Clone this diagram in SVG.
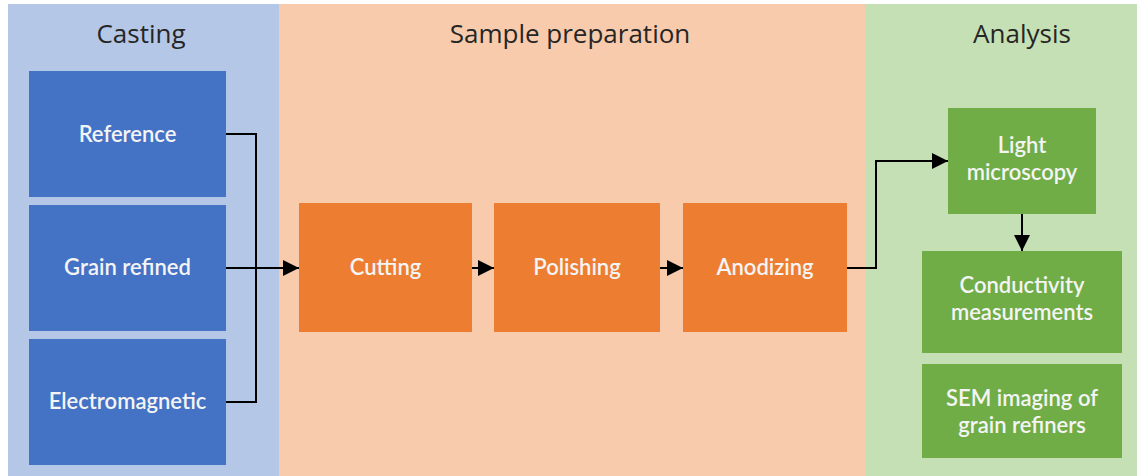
<svg xmlns="http://www.w3.org/2000/svg" width="1137" height="476" viewBox="0 0 1137 476">
  <style>
    .title { font-family: "Open Sans", Lato, sans-serif; font-size: 26px; fill: #262626; text-anchor: middle; }
    .lbl { font-family: Lato, "Open Sans", sans-serif; font-size: 22px; font-weight: 600; fill: #f4f4f4; text-anchor: middle; }
    .blue { fill: #4472c4; }
    .orange { fill: #ed7d31; }
    .green { fill: #70ad47; }
    .wire { fill: none; stroke: #000; stroke-width: 2; }
  </style>
  <defs>
    <marker id="head" viewBox="0 0 16 16" refX="16" refY="8" markerWidth="16" markerHeight="16" markerUnits="userSpaceOnUse" orient="auto">
      <path d="M0,0 L16,8 L0,16 z" fill="#000"/>
    </marker>
  </defs>

  <!-- stage panels -->
  <g id="panels">
    <rect x="0" y="0" width="1137" height="476" fill="#ffffff"/>
    <rect x="8" y="4" width="271" height="472" fill="#b4c7e7"/>
    <rect x="279" y="4" width="586" height="472" fill="#f8cbad"/>
    <rect x="865" y="4" width="272" height="472" fill="#c5e0b4"/>
    <text class="title" x="141" y="43">Casting</text>
    <text class="title" x="570" y="43">Sample preparation</text>
    <text class="title" x="1022" y="43">Analysis</text>
  </g>

  <!-- casting variants -->
  <g id="reference">
    <rect class="blue" x="29" y="71" width="197" height="126"/>
    <text class="lbl" x="127.5" y="141.5">Reference</text>
  </g>
  <g id="grain-refined">
    <rect class="blue" x="29" y="205" width="197" height="126"/>
    <text class="lbl" x="127.5" y="275">Grain refined</text>
  </g>
  <g id="electromagnetic">
    <rect class="blue" x="29" y="339" width="197" height="126"/>
    <text class="lbl" x="127.5" y="409">Electromagnetic</text>
  </g>

  <!-- preparation steps -->
  <g id="cutting">
    <rect class="orange" x="299" y="203" width="173" height="129"/>
    <text class="lbl" x="385.5" y="275">Cutting</text>
  </g>
  <g id="polishing">
    <rect class="orange" x="494" y="203" width="166" height="129"/>
    <text class="lbl" x="577" y="275">Polishing</text>
  </g>
  <g id="anodizing">
    <rect class="orange" x="683" y="203" width="164" height="129"/>
    <text class="lbl" x="765" y="275">Anodizing</text>
  </g>

  <!-- analysis -->
  <g id="light-microscopy">
    <rect class="green" x="948" y="108" width="148" height="106"/>
    <text class="lbl" x="1022" y="153">Light</text>
    <text class="lbl" x="1022" y="180">microscopy</text>
  </g>
  <g id="conductivity">
    <rect class="green" x="922" y="251" width="200" height="102"/>
    <text class="lbl" x="1022" y="293">Conductivity</text>
    <text class="lbl" x="1022" y="320">measurements</text>
  </g>
  <g id="sem-imaging">
    <rect class="green" x="922" y="364" width="200" height="94"/>
    <text class="lbl" x="1022" y="406">SEM imaging of</text>
    <text class="lbl" x="1022" y="433">grain refiners</text>
  </g>

  <!-- connectors -->
  <g id="connectors">
    <path class="wire" d="M226,134 H256 V402 H226"/>
    <path class="wire" d="M226,268 H299" marker-end="url(#head)"/>
    <path class="wire" d="M472,268 H494" marker-end="url(#head)"/>
    <path class="wire" d="M660,268 H683" marker-end="url(#head)"/>
    <path class="wire" d="M847,268 H876 V161 H948" marker-end="url(#head)"/>
    <path class="wire" d="M1022,214 V251" marker-end="url(#head)"/>
  </g>
</svg>
